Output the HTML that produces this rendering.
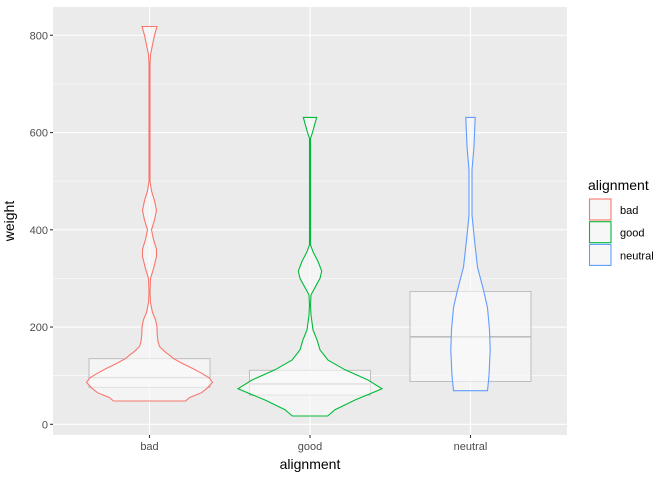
<!DOCTYPE html>
<html><head><meta charset="utf-8"><style>
body{margin:0;background:#fff;}
svg{display:block;font-family:"Liberation Sans",Arial,sans-serif;}
</style></head><body>
<svg id="chart" width="672" height="480">
<rect x="53" y="7" width="514" height="428" fill="#EBEBEB"/>
<g id="grid"></g><g id="boxes"></g><g id="violins"></g><g id="axes"></g>
<text x="14" y="221" transform="rotate(-90 14 221)" text-anchor="middle" font-size="14" fill="#000">weight</text>
<text x="310" y="469" text-anchor="middle" font-size="14" fill="#000">alignment</text>
<g id="legend">
<text x="588" y="190" font-size="14" fill="#000">alignment</text>
</g>
</svg>
<script>
const categories=["bad","good","neutral"];
const colors=["#F8766D","#00BA38","#619CFF"];
const yTicks=[0,200,400,600,800];
const yMinor=[100,300,500,700];
const boxQ1=[76,60,88];
const boxMedian=[96,83,180];
const boxQ3=[135,111,273];
// violin profiles: [value, density(half-width units)]
const violinBad=[[48,36],[55,40],[65,52],[75,58],[86,63],[95,60],[105,52],[115,43],[125,33],[135,24],[142,20],[150,15],[160,10],[170,8.5],[185,7.7],[200,7.5],[215,6],[230,3],[250,1],[270,0.5],[300,1],[320,4],[345,7],[360,7],[380,4],[400,2],[420,5],[440,7],[460,5],[480,2],[500,0.5],[740,0.5],[760,1],[780,3],[800,5],[818,7.5]];
const violinGood=[[17,17.7],[30,25],[50,45],[73,72],[91,58],[112,35],[132,18],[153,10],[174,7],[194,3],[225,1],[245,0.5],[266,1],[285,6],[300,10],[315,11.7],[335,8],[355,3],[369,0.5],[588,0.5],[600,2.5],[615,4.5],[631,6.7]];
const violinNeutral=[[69,17],[100,18.5],[153,19.7],[194,19],[240,17],[276,13],[323,7],[379,4],[430,1.5],[523,1.5],[571,3.5],[631,4.7]];
const violins=[violinBad,violinGood,violinNeutral];

const NS="http://www.w3.org/2000/svg";
const PL=53,PR=567,PT=7,PB=435;
function yScale(v){return 424.3-v*0.4863;}
function xScale(i){return 149.5+i*160.5;}
function mk(tag,attrs,parent){const e=document.createElementNS(NS,tag);for(const k in attrs)e.setAttribute(k,attrs[k]);parent.appendChild(e);return e;}
const grid=document.getElementById('grid'),axes=document.getElementById('axes'),boxes=document.getElementById('boxes'),vg=document.getElementById('violins'),leg=document.getElementById('legend');
yMinor.forEach(v=>{const l=mk('line',{x1:PL,x2:PR,y1:yScale(v),y2:yScale(v),stroke:'#fff','stroke-width':0.55},grid);

});
yTicks.forEach(v=>{const y=yScale(v);
const l=mk('line',{x1:PL,x2:PR,y1:y,y2:y,stroke:'#fff','stroke-width':1.1},grid);


const t=mk('line',{x1:PL-3,x2:PL,y1:y,y2:y,stroke:'#333','stroke-width':1.1},axes);


const tx=mk('text',{x:PL-5,y:y+4,'text-anchor':'end','font-size':11,fill:'#4D4D4D'},axes);tx.textContent=v;

});
categories.forEach((c,i)=>{const x=xScale(i);
const l=mk('line',{x1:x,x2:x,y1:PT,y2:PB,stroke:'#fff','stroke-width':1.1},grid);


const t=mk('line',{x1:x,x2:x,y1:PB,y2:PB+3,stroke:'#333','stroke-width':1.1},axes);


const tx=mk('text',{x:x,y:PB+15,'text-anchor':'middle','font-size':11,fill:'#4D4D4D'},axes);tx.textContent=c;


// box
const bw=60.5;
const r=mk('rect',{x:x-bw,y:yScale(boxQ3[i]),width:2*bw,height:yScale(boxQ1[i])-yScale(boxQ3[i]),fill:'#F7F7F7','fill-opacity':0.75,stroke:'#BEBEBE','stroke-width':1},boxes);


const m=mk('line',{x1:x-bw,x2:x+bw,y1:yScale(boxMedian[i]),y2:yScale(boxMedian[i]),stroke:'#BEBEBE','stroke-width':1.6},boxes);


// violin
const prof=violins[i];let d='';
prof.forEach((p,j)=>{d+=(j?'L':'M')+(x+p[1]).toFixed(1)+','+yScale(p[0]).toFixed(1);});
for(let j=prof.length-1;j>=0;j--){const p=prof[j];d+='L'+(x-p[1]).toFixed(1)+','+yScale(p[0]).toFixed(1);}
d+='Z';
const v=mk('path',{d:d,fill:'#FAFAFA','fill-opacity':0.6,stroke:colors[i],'stroke-width':1.1},vg);


// legend
const ky=199+i*22.7;
const k=mk('rect',{x:589.5,y:ky,width:21.5,height:21,fill:'#F7F7F7',stroke:colors[i],'stroke-width':1.1},leg);


const lt=mk('text',{x:620,y:ky+15,'font-size':11,fill:'#000'},leg);lt.textContent=c;


});
</script>
</body></html>
